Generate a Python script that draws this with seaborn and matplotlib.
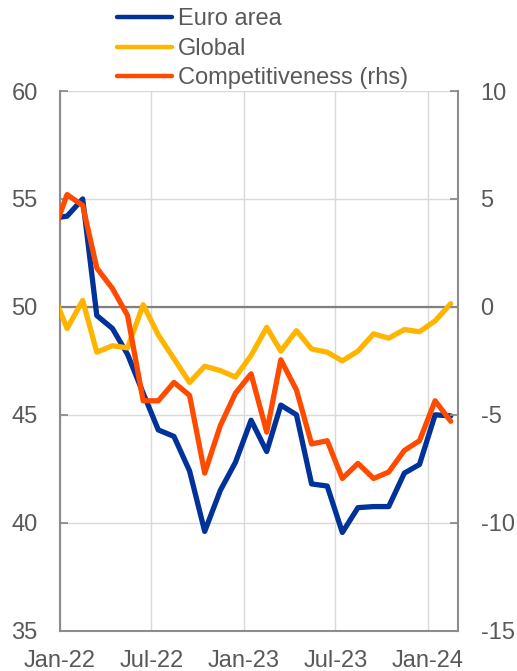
import matplotlib
matplotlib.use("Agg")
import matplotlib.pyplot as plt
import matplotlib.dates as mdates
from matplotlib.lines import Line2D
import seaborn as sns
import pandas as pd

# ---- data (monthly, mid-month observations, Dec-21 .. Feb-24) ----
months = pd.date_range("2021-12-01", "2024-02-01", freq="MS") + pd.Timedelta(days=14)
euro_area = [54.1, 54.2, 55.0, 49.6, 49.0, 47.8, 46.0, 44.3, 44.0, 42.4, 39.6, 41.5, 42.8,
             44.75, 43.3, 45.45, 45.0, 41.8, 41.7, 39.55, 40.7, 40.75, 40.75, 42.3, 42.7,
             45.0, 44.95]
global_ = [50.8, 49.0, 50.3, 47.9, 48.2, 48.1, 50.1, 48.7, 47.6, 46.5, 47.25, 47.05, 46.75,
           47.75, 49.05, 47.95, 48.9, 48.05, 47.9, 47.5, 47.95, 48.75, 48.55, 48.95, 48.85,
           49.35, 50.15]
competitiveness = [3.2, 5.2, 4.7, 1.8, 0.85, -0.4, -4.35, -4.35, -3.5, -4.1, -7.7, -5.5, -4.0,
                   -3.1, -5.8, -2.45, -3.85, -6.35, -6.2, -7.95, -7.25, -7.95, -7.65, -6.65, -6.2,
                   -4.35, -5.3]
series_names = ["Euro area", "Global", "Competitiveness (rhs)"]
colors = ["#003299", "#FFB400", "#FF4B00"]
left_ticks = [35, 40, 45, 50, 55, 60]
right_ticks = [-15, -10, -5, 0, 5, 10]
x_ticks = pd.to_datetime(["2022-01-01", "2022-07-01", "2023-01-01", "2023-07-01", "2024-01-01"])

sns.set_theme(style="white")
plt.rcParams["font.family"] = ["Liberation Sans", "DejaVu Sans"]
plt.rcParams["axes.unicode_minus"] = False

df_left = pd.DataFrame({
    "date": list(months) * 2,
    "value": euro_area + global_,
    "series": [series_names[0]] * len(months) + [series_names[1]] * len(months),
})
df_right = pd.DataFrame({"date": months, "value": competitiveness})

fig = plt.figure(figsize=(5.17, 6.71), dpi=100)
ax = fig.add_axes([60 / 517, 1 - 630.7 / 671, (458.3 - 60) / 517, (630.7 - 91) / 671])
ax2 = ax.twinx()

gray_txt = "#595959"
spine_c = "#8c8c8c"
grid_c = "#d9d9d9"

lw = 3.8
ax.axhline(50, color="#808080", lw=1.6, zorder=1)
sns.lineplot(data=df_left, x="date", y="value", hue="series", palette=colors[:2],
             hue_order=series_names[:2], lw=lw, ax=ax, legend=False, zorder=3)
sns.lineplot(data=df_right, x="date", y="value", color=colors[2], lw=lw, ax=ax2,
             legend=False, zorder=3)
for ln in ax.lines + ax2.lines:
    ln.set_solid_joinstyle("round")
    ln.set_solid_capstyle("round")

xmin, xmax = pd.Timestamp("2022-01-01"), pd.Timestamp("2024-03-01")
ax.set_xlim(xmin, xmax)
ax.set_ylim(35, 60)
ax2.set_ylim(-15, 10)
ax.set_yticks(left_ticks)
ax2.set_yticks(right_ticks)
ax.set_xticks(x_ticks)
ax.xaxis.set_major_formatter(mdates.DateFormatter("%b-%y"))

ax.set_xlabel("")
ax.set_ylabel("")
ax2.set_xlabel("")
ax2.set_ylabel("")

ax.grid(True, color=grid_c, lw=1.0, zorder=0)
ax2.grid(False)
ax.set_axisbelow(True)

fs = 17
ax.tick_params(axis="y", direction="in", length=6, width=1.3, color=spine_c,
               labelsize=fs, labelcolor=gray_txt, pad=16)
ax2.tick_params(axis="y", direction="in", length=6, width=1.3, color=spine_c,
                labelsize=fs, labelcolor=gray_txt, pad=16)
ax.tick_params(axis="x", direction="out", length=5, width=1.3, color=spine_c,
               labelsize=fs, labelcolor=gray_txt, pad=9)

for a in (ax, ax2):
    a.spines["top"].set_visible(False)
    for s in ("left", "right", "bottom"):
        a.spines[s].set_color(spine_c)
        a.spines[s].set_linewidth(1.5)
ax2.spines["left"].set_visible(False)
ax2.spines["bottom"].set_visible(False)
ax.spines["right"].set_visible(False)

handles = [Line2D([0], [0], color=c, lw=3.2, solid_capstyle="round") for c in colors]
fig.legend(handles, series_names, loc="upper left", bbox_to_anchor=(115 / 517, 1 - 6 / 671),
           frameon=False, fontsize=fs, handlelength=2.3, handletextpad=0.25,
           labelspacing=0.32, borderaxespad=0.0, borderpad=0.1, labelcolor=gray_txt)

fig.savefig("out.png", dpi=100)
